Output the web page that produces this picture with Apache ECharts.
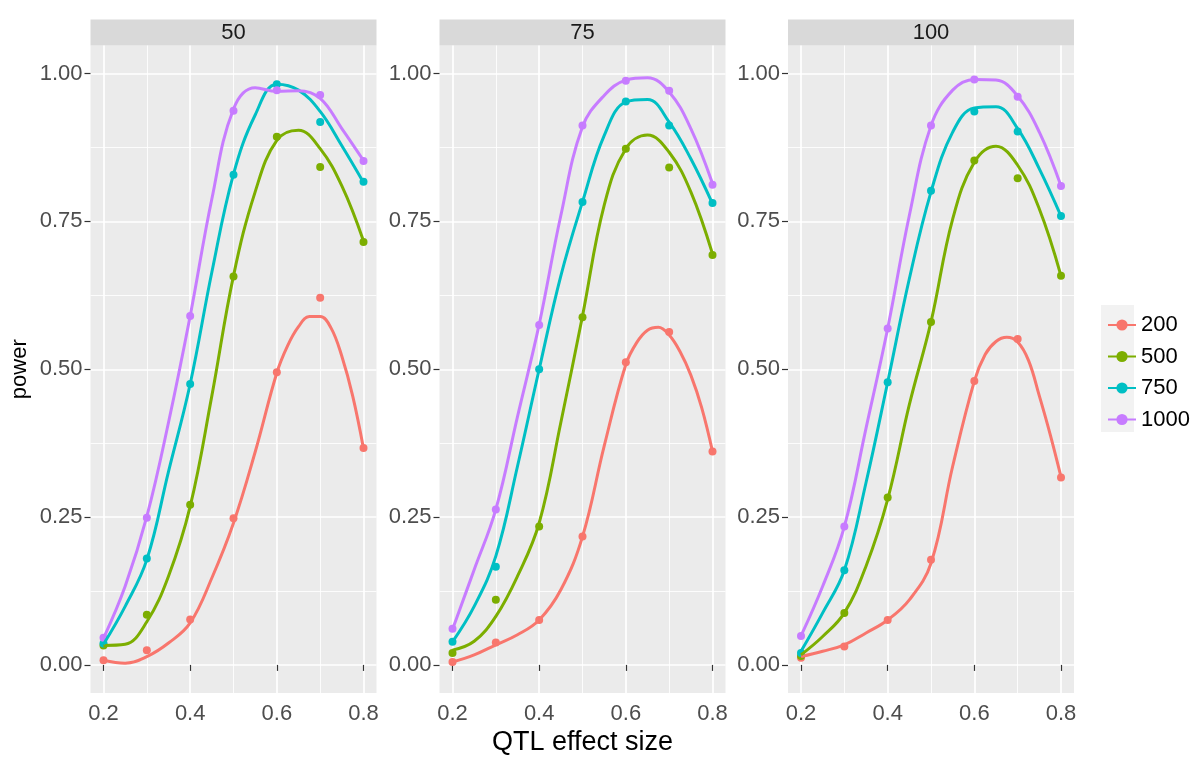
<!DOCTYPE html>
<html><head><meta charset="utf-8">
<script src="https://cdn.jsdelivr.net/npm/echarts@6/dist/echarts.min.js"></script>
<style>html,body{margin:0;padding:0;background:#fff}#c{width:1190px;height:757px}</style>
</head><body><div id="c"></div><script>
// ---------- data ----------
const panels = ['50', '75', '100'];
const groups = ['200', '500', '750', '1000'];
const colors = ['#F8766D', '#7CAE00', '#00BFC4', '#C77CFF'];
const xPoints = [0.2, 0.3, 0.4, 0.5, 0.6, 0.7, 0.8];
const xCurve = [0.2, 0.25, 0.3, 0.35, 0.4, 0.45, 0.5, 0.55, 0.6, 0.65, 0.7, 0.75, 0.8];
const xCurveRed = [0.2, 0.25, 0.3, 0.35, 0.4, 0.45, 0.5, 0.55, 0.6, 0.625, 0.65, 0.675, 0.7, 0.725, 0.75, 0.775, 0.8];
const xTicks = [0.2, 0.4, 0.6, 0.8];
const xMinor = [0.3, 0.5, 0.7];
const yTicks = [0, 0.25, 0.5, 0.75, 1];
const yMinor = [0.125, 0.375, 0.625, 0.875];

// observed power (points)
const pts50_200  = [0.008, 0.025, 0.077, 0.248, 0.495, 0.621, 0.367];
const pts50_500  = [0.033, 0.085, 0.271, 0.657, 0.893, 0.842, 0.715];
const pts50_750  = [0.036, 0.180, 0.475, 0.829, 0.982, 0.918, 0.817];
const pts50_1000 = [0.046, 0.249, 0.590, 0.937, 0.972, 0.964, 0.852];

const pts75_200  = [0.005, 0.038, 0.076, 0.217, 0.512, 0.563, 0.361];
const pts75_500  = [0.020, 0.110, 0.234, 0.588, 0.873, 0.841, 0.693];
const pts75_750  = [0.039, 0.166, 0.500, 0.783, 0.953, 0.912, 0.781];
const pts75_1000 = [0.061, 0.263, 0.575, 0.912, 0.988, 0.971, 0.812];

const pts100_200  = [0.012, 0.031, 0.076, 0.178, 0.480, 0.551, 0.317];
const pts100_500  = [0.015, 0.088, 0.283, 0.580, 0.853, 0.823, 0.658];
const pts100_750  = [0.020, 0.160, 0.478, 0.802, 0.936, 0.902, 0.759];
const pts100_1000 = [0.049, 0.234, 0.569, 0.912, 0.990, 0.961, 0.810];

// smoothed curves (red at xCurveRed, others at xCurve)
const fit50_200  = [0.008, 0.003, 0.014, 0.037, 0.071, 0.147, 0.240, 0.360, 0.494, 0.540, 0.572, 0.589, 0.589, 0.570, 0.522, 0.455, 0.366];
const fit50_500  = [0.033, 0.035, 0.073, 0.150, 0.268, 0.455, 0.658, 0.800, 0.887, 0.904, 0.873, 0.810, 0.717];
const fit50_750  = [0.035, 0.099, 0.178, 0.327, 0.475, 0.664, 0.830, 0.930, 0.982, 0.972, 0.936, 0.878, 0.816];
const fit50_1000 = [0.045, 0.133, 0.251, 0.410, 0.590, 0.788, 0.940, 0.976, 0.970, 0.971, 0.958, 0.907, 0.853];

const fit75_200  = [0.005, 0.017, 0.034, 0.051, 0.076, 0.127, 0.217, 0.370, 0.508, 0.545, 0.566, 0.571, 0.558, 0.530, 0.490, 0.435, 0.361];
const fit75_500  = [0.025, 0.040, 0.082, 0.150, 0.240, 0.410, 0.590, 0.777, 0.873, 0.896, 0.867, 0.800, 0.695];
const fit75_750  = [0.039, 0.099, 0.184, 0.336, 0.500, 0.658, 0.783, 0.895, 0.952, 0.956, 0.918, 0.856, 0.780];
const fit75_1000 = [0.060, 0.161, 0.263, 0.420, 0.576, 0.760, 0.910, 0.963, 0.989, 0.993, 0.969, 0.907, 0.814];

const fit100_200  = [0.014, 0.023, 0.034, 0.054, 0.076, 0.110, 0.172, 0.336, 0.480, 0.525, 0.547, 0.554, 0.546, 0.515, 0.455, 0.390, 0.318];
const fit100_500  = [0.017, 0.048, 0.088, 0.167, 0.280, 0.440, 0.580, 0.754, 0.850, 0.877, 0.845, 0.771, 0.658];
const fit100_750  = [0.023, 0.088, 0.160, 0.308, 0.478, 0.653, 0.800, 0.901, 0.942, 0.944, 0.907, 0.839, 0.759];
const fit100_1000 = [0.049, 0.133, 0.234, 0.400, 0.569, 0.760, 0.912, 0.972, 0.990, 0.989, 0.962, 0.901, 0.810];

const pointsByPanel = [
  [pts50_200, pts50_500, pts50_750, pts50_1000],
  [pts75_200, pts75_500, pts75_750, pts75_1000],
  [pts100_200, pts100_500, pts100_750, pts100_1000]
];
const curvesByPanel = [
  [fit50_200, fit50_500, fit50_750, fit50_1000],
  [fit75_200, fit75_500, fit75_750, fit75_1000],
  [fit100_200, fit100_500, fit100_750, fit100_1000]
];
const curveX = [xCurveRed, xCurve, xCurve, xCurve];

// ---------- layout ----------
const FONT = '"Liberation Sans", Arial, Helvetica, sans-serif';
const gridLeft = [90.5, 439.5, 788];
const gridW = 286, gridTop = 45.5, gridH = 647.5;
const stripTop = 19.5;

const grids = [], xAxes = [], yAxes = [], series = [], graphics = [];
panels.forEach((p, i) => {
  grids.push({left: gridLeft[i], top: gridTop, width: gridW, height: gridH,
    outerBoundsMode: 'none', containLabel: false,
    show: true, backgroundColor: '#EBEBEB', borderWidth: 0});
  xAxes.push({
    type: 'value', gridIndex: i, min: 0.17, max: 0.83,
    axisLine: {show: false},
    axisTick: {show: true, length: 6, lineStyle: {color: '#333333', width: 1.2}, customValues: xTicks},
    axisLabel: {show: true, customValues: xTicks, formatter: v => v.toFixed(1),
      color: '#4D4D4D', fontSize: 22, fontFamily: FONT, margin: 10},
    splitLine: {show: true, lineStyle: {color: '#FFFFFF', width: 1.7}},
    name: i === 1 ? 'QTL effect size' : '', nameLocation: 'middle', nameGap: 36,
    nameMoveOverlap: false,
    nameTextStyle: {fontSize: 27, color: '#000000', fontFamily: FONT}
  });
  xAxes.push({
    type: 'value', gridIndex: i, min: 0.17, max: 0.83, position: 'bottom',
    axisLine: {show: false},
    axisTick: {show: false, customValues: xMinor},
    axisLabel: {show: false, customValues: xMinor},
    splitLine: {show: true, lineStyle: {color: '#FFFFFF', width: 0.85}}
  });
  yAxes.push({
    type: 'value', gridIndex: i, min: -0.0475, max: 1.0475,
    axisLine: {show: false},
    axisTick: {show: true, length: 6, lineStyle: {color: '#333333', width: 1.2}, customValues: yTicks},
    axisLabel: {show: true, customValues: yTicks, formatter: v => v.toFixed(2),
      color: '#4D4D4D', fontSize: 22, fontFamily: FONT, margin: 8},
    splitLine: {show: true, lineStyle: {color: '#FFFFFF', width: 1.7}},
    name: i === 0 ? 'power' : '', nameLocation: 'middle', nameGap: 60, nameRotate: 90,
    nameMoveOverlap: false,
    nameTextStyle: {fontSize: 22, color: '#000000', fontFamily: FONT}
  });
  yAxes.push({
    type: 'value', gridIndex: i, min: -0.0475, max: 1.0475, position: 'left',
    axisLine: {show: false},
    axisTick: {show: false, customValues: yMinor},
    axisLabel: {show: false, customValues: yMinor},
    splitLine: {show: true, lineStyle: {color: '#FFFFFF', width: 0.85}}
  });

  groups.forEach((g, k) => {
    series.push({
      type: 'line', name: g, xAxisIndex: 2 * i, yAxisIndex: 2 * i,
      data: curveX[k].map((x, j) => [x, curvesByPanel[i][k][j]]),
      smooth: 0.4, showSymbol: false, symbol: 'circle', symbolSize: 8,
      lineStyle: {width: 3, color: colors[k]}, itemStyle: {color: colors[k]},
      z: 3, silent: true
    });
  });
  groups.forEach((g, k) => {
    series.push({
      type: 'scatter', name: g, xAxisIndex: 2 * i, yAxisIndex: 2 * i,
      data: xPoints.map((x, j) => [x, pointsByPanel[i][k][j]]),
      symbol: 'circle', symbolSize: 8, itemStyle: {color: colors[k], opacity: 1},
      z: 2, silent: true
    });
  });

  graphics.push({type: 'rect', left: gridLeft[i], top: stripTop, z: 0,
    shape: {width: gridW, height: gridTop - stripTop}, style: {fill: '#D9D9D9'}});
  graphics.push({type: 'text', x: gridLeft[i] + gridW / 2, y: (stripTop + gridTop) / 2 + 0.5, z: 1,
    style: {text: p, fill: '#1A1A1A', fontSize: 22, fontFamily: FONT, textAlign: 'center', textVerticalAlign: 'middle'}});
});

graphics.push({type: 'rect', left: 1101, top: 305, z: 0,
  shape: {width: 33, height: 127}, style: {fill: '#F2F2F2'}});

const chart = echarts.init(document.getElementById('c'), null, {renderer: 'canvas'});
chart.setOption({
  animation: false,
  backgroundColor: '#FFFFFF',
  textStyle: {fontFamily: FONT},
  grid: grids, xAxis: xAxes, yAxis: yAxes, series: series,
  graphic: graphics,
  legend: {
    data: groups, orient: 'vertical', left: 1102, top: 309,
    itemWidth: 28, itemHeight: 14, itemGap: 9.5,
    textStyle: {fontSize: 22, color: '#000000', fontFamily: FONT}
  }
});
</script></body></html>
